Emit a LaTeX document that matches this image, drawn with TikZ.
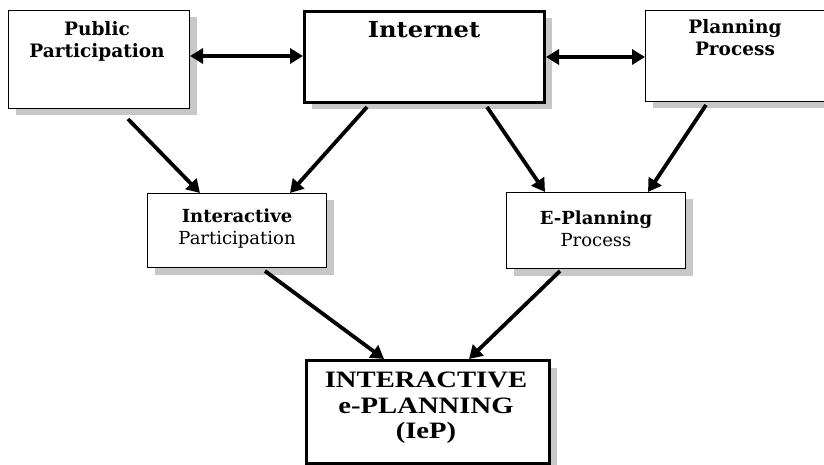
\documentclass[tikz,border=0pt]{standalone}
\usepackage{fontspec}
\setmainfont{DejaVu Serif}
\newfontfamily\timesfont[FakeStretch=1.22]{Liberation Serif}
\newfontfamily\widefont[FakeStretch=1.1]{DejaVu Serif}
\usetikzlibrary{arrows.meta,calc,shadows}

\tikzset{
  box/.style={draw, fill=white, inner sep=0pt, anchor=north west, line width=1pt,
    drop shadow={shadow xshift=7pt, shadow yshift=-7pt, fill=black!22, opacity=1}},
  heavybox/.style={box, line width=3pt},
  lbl/.style={align=center, inner sep=0pt, text=black},
  arr/.style={line width=3.8pt, -{Triangle[length=13pt,width=15pt]}},
  darr/.style={line width=3.8pt, {Triangle[length=13pt,width=15pt]}-{Triangle[length=13pt,width=15pt]}}
}

\begin{document}
\begin{tikzpicture}[x=1pt,y=-1pt]
\useasboundingbox (0,0) rectangle (824,465);

% boxes
\node[box, minimum width=181pt, minimum height=98pt] (pub) at (8,10) {};
\node[heavybox, minimum width=240pt, minimum height=91pt] (inet) at (303,10) {};
\node[box, minimum width=185pt, minimum height=91pt] (plan) at (645,10) {};
\node[box, minimum width=179pt, minimum height=74pt] (intp) at (147,193) {};
\node[box, minimum width=179pt, minimum height=76pt] (eplan) at (506,192) {};
\node[heavybox, minimum width=243pt, minimum height=103pt] (iep) at (305,359) {};

% labels
\node[lbl, font=\fontsize{18.5}{22}\selectfont\bfseries] (tpub) at (97,41) {Public\\Participation};
\node[lbl, font=\fontsize{22}{26}\selectfont\widefont\bfseries] (tinet) at (424,30) {Internet};
\node[lbl, font=\fontsize{18.5}{22}\selectfont\bfseries] (tplan) at (735,38) {Planning\\Process};
\node[lbl, font=\fontsize{18}{22}\selectfont] (tintp) at (237,229) {\textbf{Interactive}\\Participation};
\node[lbl, font=\fontsize{18}{22}\selectfont] (teplan) at (596,229) {\textbf{E-Planning}\\Process};
\node[lbl, font=\fontsize{23.5}{25.5}\selectfont\timesfont\bfseries] (tiep) at (426,408) {INTERACTIVE\\e-PLANNING\\(IeP)};

% connectors
\draw[darr] ($(pub.north east)+(0,46)$) -- ($(inet.north west)+(0,46)$);
\draw[darr] ($(inet.north east)+(0,47)$) -- ($(plan.north west)+(0,47)$);
\draw[arr] ($(pub.south west)+(120,10)$) -- ($(intp.north west)+(53,0)$);
\draw[arr] ($(inet.south west)+(64,3)$) -- ($(intp.north west)+(143,0)$);
\draw[arr] ($(inet.south west)+(184,3)$) -- ($(eplan.north west)+(39,0)$);
\draw[arr] ($(plan.south west)+(61,3)$) -- ($(eplan.north west)+(142,0)$);
\draw[arr] ($(intp.south west)+(118,3)$) -- ($(iep.north west)+(79,0)$);
\draw[arr] ($(eplan.south west)+(54,2)$) -- ($(iep.north west)+(164,0)$);
\end{tikzpicture}
\end{document}
